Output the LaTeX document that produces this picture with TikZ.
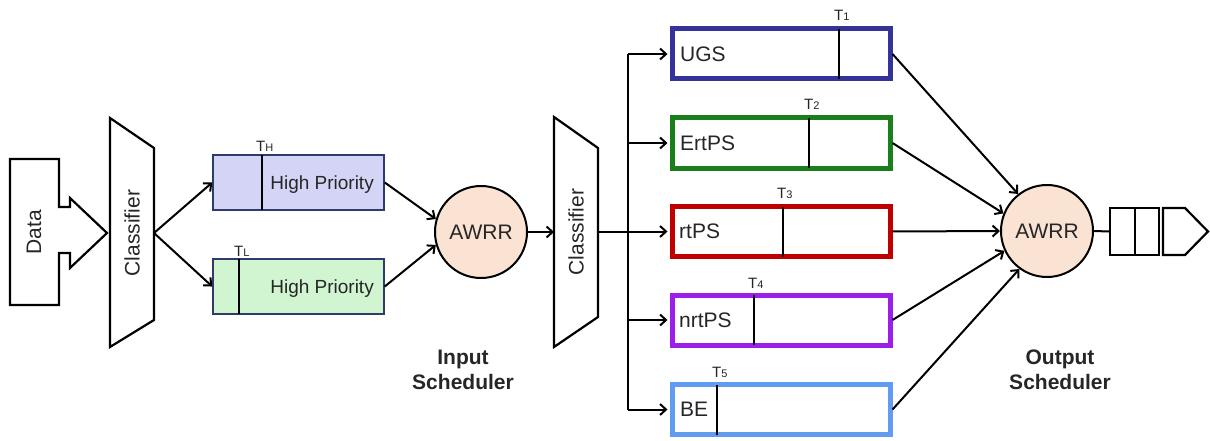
\documentclass[tikz,border=0pt]{standalone}
\usepackage{fontspec}
\setmainfont{Liberation Sans}
\usetikzlibrary{arrows.meta}
\definecolor{txt}{HTML}{262626}
\definecolor{hpborder}{HTML}{2F3B6B}
\definecolor{hpfillA}{HTML}{D4D4F7}
\definecolor{hpfillB}{HTML}{D0F5D0}
\definecolor{awrrfill}{HTML}{FBE3D3}
\definecolor{ugscol}{HTML}{333399}
\definecolor{ertcol}{HTML}{1A7F1A}
\definecolor{rtcol}{HTML}{C00000}
\definecolor{nrtcol}{HTML}{9B1FE8}
\definecolor{becol}{HTML}{619CF0}
\begin{document}
\begin{tikzpicture}[x=1pt,y=-1pt,
  lbl/.style={font=\fontsize{21}{25}\selectfont, text=txt, inner sep=0pt},
  hplbl/.style={font=\fontsize{19}{23}\selectfont, text=txt, inner sep=0pt},
  boldlbl/.style={font=\fontsize{21}{25}\selectfont\bfseries, text=txt, inner sep=0pt, align=center},
  tlbl/.style={font=\fontsize{15}{17}\selectfont, text=txt, inner sep=0pt},
  hpbox/.style={draw=hpborder, line width=1.5pt, minimum width=171pt, minimum height=55pt, inner sep=0pt},
  qbox/.style={draw=#1, line width=5pt, minimum width=218pt, minimum height=50pt, inner sep=0pt, fill=white},
  divider/.style={line width=2.5pt, black},
  outline/.style={line width=2.2pt, black, line join=miter},
  arr/.style={-{Straight Barb[length=6pt,width=11pt,line width=2pt]}, line width=2pt, black},
  plain/.style={line width=2pt, black},
  awrr/.style={circle, draw=black, line width=2pt, fill=awrrfill, minimum size=92pt, inner sep=0pt, font=\fontsize{21}{25}\selectfont, text=txt},
  cell/.style={draw=black, line width=2pt, minimum height=47pt, inner sep=0pt}
]
\useasboundingbox[fill=white] (0,0) rectangle (1210,441);

% Data arrow shape
\draw[outline] (10,159) -- (59,159) -- (59,207) -- (70,207) -- (70,198) -- (107,233)
  -- (70,268) -- (70,253) -- (59,253) -- (59,305) -- (10,305) -- cycle;
\node[lbl, rotate=90] (data) at (34,232) {Data};

% Classifier 1
\draw[outline] (110,118) -- (154,148) -- (154,320) -- (110,347) -- cycle;
\node[lbl, rotate=90] (cls1) at (132,233) {Classifier};
\coordinate (cls1out) at (154,233);

% High priority boxes
\node[hpbox, fill=hpfillA] (hpA) at (298.5,182.5) {};
\node[hpbox, fill=hpfillB] (hpB) at (298.5,286.5) {};
\draw[divider, line width=2pt] (262,155) -- (262,210);
\draw[divider, line width=2pt] (239,259) -- (239,314);
\node[hplbl, anchor=base east] (hpAl) at (374,189) {High Priority};
\node[hplbl, anchor=base east] (hpBl) at (374,293) {High Priority};
\node[tlbl, anchor=base west] (tH) at (256,151) {T{\fontsize{11}{12}\selectfont H}};
\node[tlbl, anchor=base west] (tL) at (234,256) {T{\fontsize{11}{12}\selectfont L}};

\draw[arr] (cls1out) -- (hpA.west);
\draw[arr] (cls1out) -- (hpB.west);

% Input AWRR
\node[awrr] (awrr1) at (481,232) {AWRR};
\draw[arr] (hpA.east) -- (awrr1.164);
\draw[arr] (hpB.east) -- (awrr1.196);

% Classifier 2
\draw[outline] (554,117) -- (598,148) -- (598,317) -- (554,347) -- cycle;
\node[lbl, rotate=90] (cls2) at (576,232) {Classifier};
\coordinate (cls2in) at (554,232);
\coordinate (cls2out) at (598,231.5);
\draw[arr] (awrr1.east) -- (cls2in);

\node[boldlbl] (insched) at (463,370) {Input\\Scheduler};

% Service flow queues
\node[qbox=ugscol] (ugs) at (781,54) {};
\node[qbox=ertcol] (ert) at (781,143) {};
\node[qbox=rtcol] (rt) at (781,231.5) {};
\node[qbox=nrtcol] (nrt) at (781,320) {};
\node[qbox=becol] (be) at (781,409.5) {};

\draw[divider] (839,29) -- (839,79);
\draw[divider] (809,118) -- (809,168);
\draw[divider] (783,206.5) -- (783,256.5);
\draw[divider] (754,295) -- (754,345);
\draw[divider] (717,384.5) -- (717,434.5);

\node[lbl, anchor=base west] (ugsl) at (680,62) {UGS};
\node[lbl, anchor=base west] (ertl) at (680,150) {ErtPS};
\node[lbl, anchor=base west] (rtl) at (679,238) {rtPS};
\node[lbl, anchor=base west] (nrtl) at (679,327) {nrtPS};
\node[lbl, anchor=base west] (bel) at (680,416) {BE};

\node[tlbl, anchor=base west] (t1) at (834,21) {T{\fontsize{11}{12}\selectfont 1}};
\node[tlbl, anchor=base west] (t2) at (804,110) {T{\fontsize{11}{12}\selectfont 2}};
\node[tlbl, anchor=base west] (t3) at (777,198) {T{\fontsize{11}{12}\selectfont 3}};
\node[tlbl, anchor=base west] (t4) at (748,288) {T{\fontsize{11}{12}\selectfont 4}};
\node[tlbl, anchor=base west] (t5) at (712,377) {T{\fontsize{11}{12}\selectfont 5}};

% Bus
\coordinate (bus1) at (628,54);
\coordinate (bus2) at (628,143);
\coordinate (bus4) at (628,320);
\coordinate (bus5) at (628,409.5);
\draw[plain] (bus1) -- (bus5);
\draw[arr, shorten >=2pt] (bus1) -- (ugs.west);
\draw[arr, shorten >=2pt] (bus2) -- (ert.west);
\draw[arr, shorten >=2pt] (cls2out) -- (rt.west);
\draw[arr, shorten >=2pt] (bus4) -- (nrt.west);
\draw[arr, shorten >=2pt] (bus5) -- (be.west);

% Output AWRR
\node[awrr] (awrr2) at (1047,231) {AWRR};
\draw[arr] (ugs.east) -- (awrr2.128);
\draw[arr] (ert.east) -- (awrr2.158);
\draw[arr] (rt.east) -- (awrr2.180);
\draw[arr] (nrt.east) -- (awrr2.205);
\draw[arr] (be.east) -- (awrr2.234);

\node[boldlbl] (outsched) at (1060,370) {Output\\Scheduler};

% Output queue
\node[cell, minimum width=25pt] (c1) at (1122.5,231.5) {};
\node[cell, minimum width=24pt] (c2) at (1147,231.5) {};
\draw[outline] (1163,208) -- (1185,208) -- (1208,231.5) -- (1185,255) -- (1163,255) -- cycle;
\draw[plain] (awrr2.east) -- (c1.west);
\end{tikzpicture}
\end{document}
